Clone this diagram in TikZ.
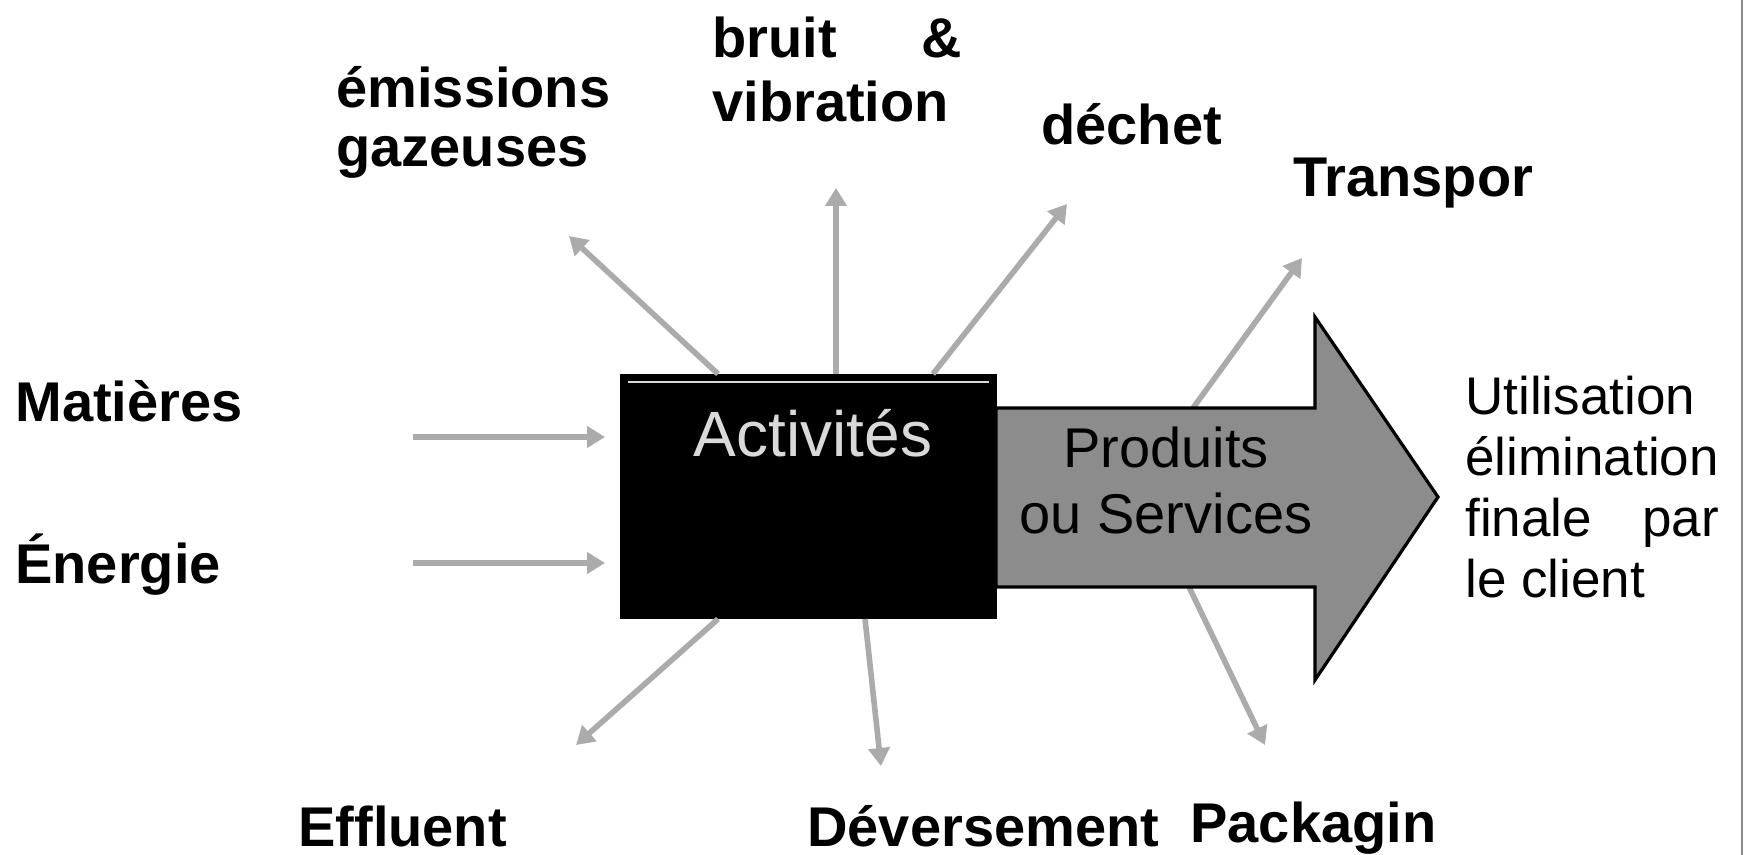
\documentclass[tikz,border=0pt]{standalone}
\usepackage{fontspec}
\setmainfont{Liberation Sans}
\usepackage{calc}
\usetikzlibrary{arrows.meta,calc}
\begin{document}
\begin{tikzpicture}[x=0.5pt,y=-0.5pt,
  lab/.style={font=\fontsize{28}{32}\selectfont\bfseries, inner sep=0pt, anchor=base west},
  flow/.style={draw=black!33, line width=2.8pt, -{Triangle[length=9pt,width=10.5pt]}},
  bigarrow/.style={draw=black, line width=1.6pt, fill=black!45, line join=miter},
  actbox/.style={draw=black, fill=black, line width=1pt, minimum width=187.5pt, minimum height=121.5pt, inner sep=0pt}]
\useasboundingbox (0,0) rectangle (1745,855);

% free ends of the flow arrows
\coordinate (matS) at (413,437);  \coordinate (matE) at (605,437);
\coordinate (eneS) at (413,563);  \coordinate (eneE) at (605,563);
\coordinate (emiE) at (569,236);
\coordinate (bruE) at (836,188);
\coordinate (decE) at (1067,204);
\coordinate (traS) at (1193,408); \coordinate (traE) at (1302,258);
\coordinate (effE) at (576,745);
\coordinate (devE) at (881,766);
\coordinate (pacS) at (1189,587); \coordinate (pacE) at (1265,745);

% arrows leaving the product arrow (drawn first, behind it)
\draw[flow] (traS) -- (traE);
\draw[flow] (pacS) -- (pacE);

% big product arrow
\coordinate (sh1) at (996,408);
\coordinate (sh2) at (1315,408);
\coordinate (hd1) at (1315,317);
\coordinate (tip) at (1438,497);
\coordinate (hd2) at (1315,680);
\coordinate (sh3) at (1315,587);
\coordinate (sh4) at (996,587);
\draw[bigarrow] (sh1) -- (sh2) -- (hd1) -- (tip) -- (hd2) -- (sh3) -- (sh4) -- cycle;

% activity box
\node[actbox] (act) at (808.5,496.5) {};
\draw[white!85!black, line width=1pt] ($(act.north west)+(8,8)$) -- ($(act.north east)+(-8,8)$);
\node[font=\fontsize{32}{32}\selectfont, text=white!85!black, inner sep=0pt, anchor=base] (acttxt) at (813,457) {Activités};

% product text
\node[font=\fontsize{28}{33}\selectfont, inner sep=0pt, anchor=base] (prod) at (1166,467)
  {\begin{tabular}[t]{@{}c@{}}Produits\\ou Services\end{tabular}};

% input arrows
\draw[flow] (matS) -- (matE);
\draw[flow] (eneS) -- (eneE);

% output arrows from the box
\draw[flow] ($(act.north west)!0.26!(act.north east)$) -- (emiE);
\draw[flow] ($(act.north west)!0.573!(act.north east)$) -- (bruE);
\draw[flow] ($(act.north west)!0.83!(act.north east)$) -- (decE);
\draw[flow] ($(act.south west)!0.26!(act.south east)$) -- (effE);
\draw[flow] ($(act.south west)!0.65!(act.south east)$) -- (devE);

% labels
\node[lab] (mat) at (15,422) {Matières};
\node[lab] (ene) at (15,583) {Énergie};
\node[lab, font=\fontsize{28}{29.5}\selectfont\bfseries] (emi) at (336,108)
  {\begin{tabular}[t]{@{}l@{}}émissions\\gazeuses\end{tabular}};
\node[lab] (bru) at (712,58)
  {\begin{tabular}[t]{@{}l@{}}\makebox[125pt][l]{bruit\hfill\&}\\vibration\end{tabular}};
\node[lab] (dec) at (1041,145) {déchet};
\node[lab] (tra) at (1293,197) {Transpor};
\node[lab] (eff) at (298,846) {Effluent};
\node[lab] (dev) at (807,846) {Déversement};
\node[lab] (pac) at (1190,842) {Packagin};
\node[lab, font=\fontsize{26.5}{30.5}\selectfont] (uti) at (1465,415)
  {\begin{tabular}[t]{@{}l@{}}Utilisation\\élimination\\\makebox[\widthof{élimination}][l]{finale\hfill par}\\le client\end{tabular}};

% right edge of the scanned page
\coordinate (edgeT) at (1742,0);
\coordinate (edgeB) at (1742,855);
\draw[black!45, line width=1.2pt] (edgeT) -- (edgeB);
\end{tikzpicture}
\end{document}
